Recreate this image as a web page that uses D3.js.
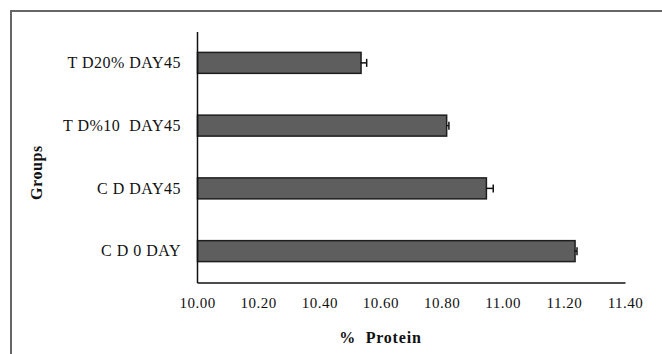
<!DOCTYPE html>
<html>
<head>
<meta charset="utf-8">
<script src="https://cdn.jsdelivr.net/npm/d3@7"></script>
<style>
  body { margin: 0; background: #fff; }
  svg { display: block; }
  text { font-family: "Liberation Serif", "Times New Roman", serif; fill: #111; }
</style>
</head>
<body>
<div id="chart"></div>
<script>
// data
const groups = ['T D20% DAY45', 'T D%10  DAY45', 'C D DAY45', 'C D 0 DAY']
const protein = [10.535, 10.815, 10.945, 11.235]
const proteinErr = [0.02, 0.009, 0.024, 0.008]
const xTicks = [10.0, 10.2, 10.4, 10.6, 10.8, 11.0, 11.2, 11.4]

const width = 662
const height = 354
const margin = { top: 31.5, right: 37, bottom: 71.5, left: 197 }
const w = width - margin.left - margin.right
const h = height - margin.top - margin.bottom

let svg = d3.select('#chart')
    .append('svg')
    .attr('width', width)
    .attr('height', height)

// outer frame (only top and left edges are visible in the picture)
svg.append('rect')
    .attr('x', 11)
    .attr('y', 11)
    .attr('width', 700)
    .attr('height', 400)
    .attr('fill', 'none')
    .attr('stroke', '#666')
    .attr('stroke-width', 2)

let g = svg.append('g')
    .attr('transform', `translate(${margin.left}, ${margin.top})`)

let x = d3.scaleLinear()
    .domain([10.0, 11.4])
    .range([0, w])

let y = d3.scaleBand()
    .domain(groups)
    .range([0, h])
    .paddingInner(0.666)
    .paddingOuter(0.333)

let rows = groups.map((k, i) => ({ k: k, v: protein[i], e: proteinErr[i] }))

g.selectAll('.bar')
    .data(rows)
    .enter().append('rect')
    .attr('class', 'bar')
    .attr('x', x(10.0) + 0.5)
    .attr('y', (d) => y(d.k))
    .attr('width', (d) => x(d.v) - x(10.0))
    .attr('height', y.bandwidth())
    .attr('fill', '#5e5e5e')
    .attr('stroke', '#1e1e1e')
    .attr('stroke-width', 1.5)

// error bars (positive side only)
let err = g.selectAll('.err')
    .data(rows)
    .enter().append('g')
    .attr('class', 'err')
    .attr('stroke', '#111')
    .attr('stroke-width', 1.5)

err.append('line')
    .attr('x1', (d) => x(d.v))
    .attr('x2', (d) => x(d.v + d.e))
    .attr('y1', (d) => y(d.k) + y.bandwidth() / 2)
    .attr('y2', (d) => y(d.k) + y.bandwidth() / 2)

err.append('line')
    .attr('x1', (d) => x(d.v + d.e))
    .attr('x2', (d) => x(d.v + d.e))
    .attr('y1', (d) => y(d.k) + y.bandwidth() / 2 - 4)
    .attr('y2', (d) => y(d.k) + y.bandwidth() / 2 + 4)

// x axis
let xAxis = g.append('g')
    .attr('transform', `translate(0, ${h})`)
    .call(d3.axisBottom(x).tickValues(xTicks).tickFormat(d3.format('.2f')).tickSize(0).tickPadding(15))
xAxis.select('.domain').attr('stroke', '#111').attr('stroke-width', 1.5)
xAxis.selectAll('text')
    .style('font-family', '"Liberation Serif", serif')
    .style('font-size', '15px')
    .style('letter-spacing', '0.5px')
    .attr('fill', '#111')

// y axis
let yAxis = g.append('g')
    .call(d3.axisLeft(y).tickSize(0).tickPadding(16))
yAxis.select('.domain').attr('stroke', '#111').attr('stroke-width', 1.5)
yAxis.selectAll('text')
    .style('font-family', '"Liberation Serif", serif')
    .style('font-size', '16px')
    .style('letter-spacing', '0.5px')
    .style('white-space', 'pre')
    .attr('fill', '#111')

// axis titles
svg.append('text')
    .attr('x', margin.left + x(10.6))
    .attr('y', 343)
    .attr('text-anchor', 'middle')
    .style('font-size', '16px')
    .style('font-weight', 'bold')
    .style('letter-spacing', '0.8px')
    .style('white-space', 'pre')
    .text('%  Protein')

svg.append('text')
    .attr('transform', 'translate(42, 172.5) rotate(-90)')
    .attr('text-anchor', 'middle')
    .style('font-size', '16px')
    .style('font-weight', 'bold')
    .style('letter-spacing', '0.6px')
    .text('Groups')
</script>
</body>
</html>
